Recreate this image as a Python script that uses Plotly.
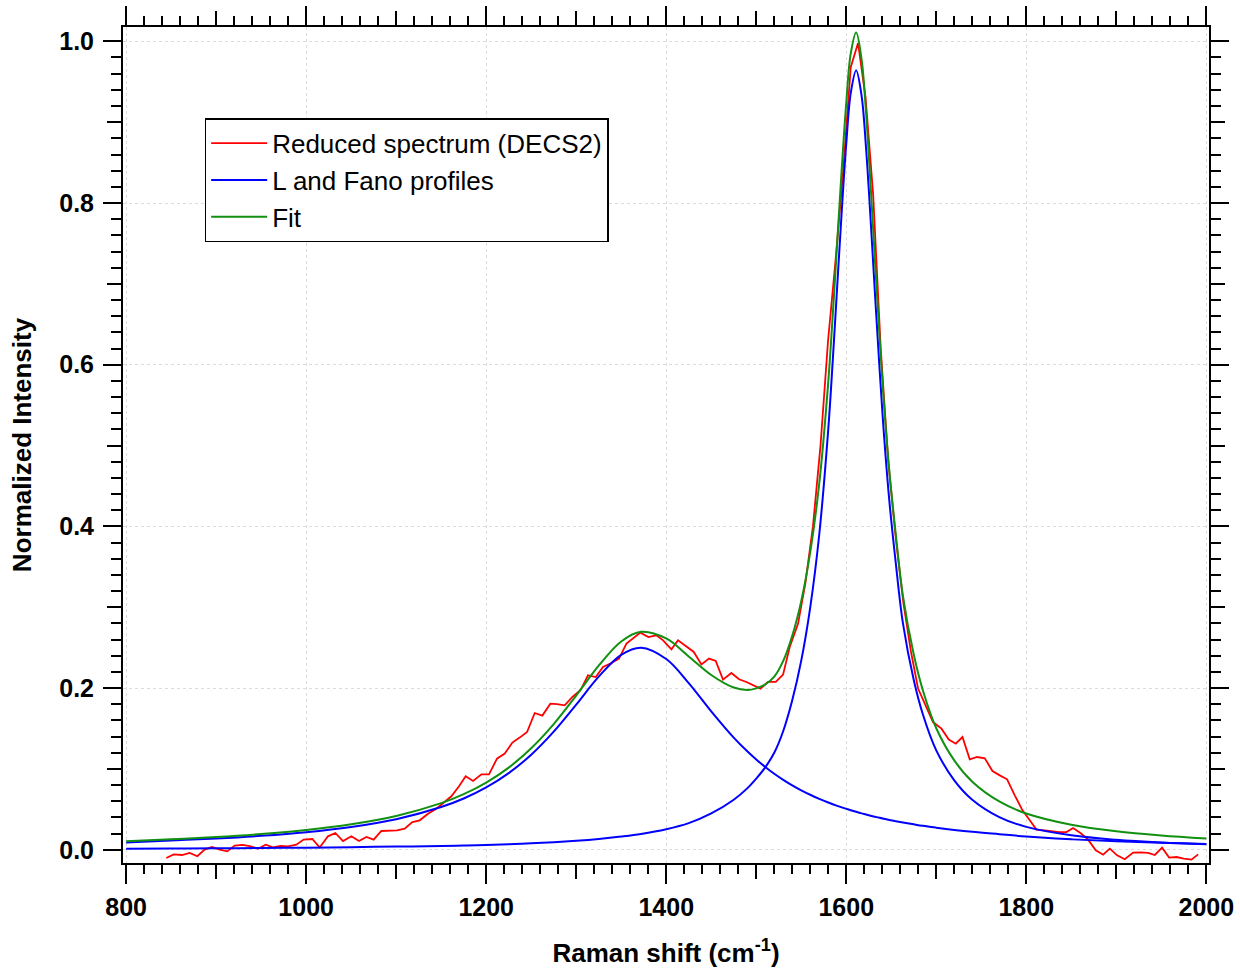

# ====================================== Required packages ================================================ #

import plotly.graph_objects as go

# ============================================ Chart data ================================================= #

# -- Reduced spectrum (DECS2) -- #
red_x = [844.6, 852.8, 862.0, 870.6, 879.1, 887.2, 895.4, 903.9, 912.4, 920.6, 929.1, 937.2, 946.5, 955.0,
         963.1, 971.7, 979.8, 989.1, 997.2, 1006.9, 1015.0, 1024.2, 1032.4, 1040.9, 1050.2, 1058.7, 1066.9,
         1075.0, 1083.5, 1092.0, 1100.9, 1109.4, 1118.0, 1126.1, 1135.4, 1144.6, 1152.8, 1161.3, 1169.8,
         1177.2, 1185.4, 1194.7, 1203.1, 1212.0, 1220.6, 1229.1, 1237.2, 1245.4, 1253.9, 1262.4, 1271.3,
         1278.7, 1287.2, 1295.8, 1304.7, 1313.1, 1321.7, 1329.8, 1339.1, 1347.6, 1355.8, 1363.9, 1371.3,
         1380.2, 1389.1, 1396.5, 1405.8, 1413.1, 1422.4, 1430.6, 1439.1, 1447.6, 1455.0, 1463.1, 1472.4,
         1480.9, 1489.1, 1497.2, 1504.7, 1513.1, 1521.7, 1529.8, 1537.2, 1546.5, 1554.6, 1563.0, 1571.4,
         1579.8, 1588.2, 1596.6, 1605.0, 1613.1, 1621.5, 1629.9, 1638.3, 1646.7, 1655.1, 1663.5, 1671.9,
         1679.8, 1688.0, 1696.4, 1705.8, 1713.9, 1721.7, 1729.1, 1737.2, 1745.4, 1753.9, 1762.4, 1770.6,
         1778.7, 1787.2, 1795.8, 1803.9, 1811.3, 1820.6, 1829.1, 1837.2, 1844.6, 1852.0, 1860.2, 1868.7,
         1877.2, 1885.4, 1892.8, 1900.9, 1909.4, 1918.7, 1926.9, 1935.4, 1942.8, 1950.9, 1958.7, 1966.9,
         1975.0, 1983.5, 1990.9]
red_y = [-0.0101, -0.0056, -0.0064, -0.0039, -0.0080, 0.0002, 0.0035, 0.0002, -0.0019, 0.0052, 0.0060,
         0.0047, 0.0014, 0.0064, 0.0031, 0.0047, 0.0043, 0.0064, 0.0126, 0.0134, 0.0027, 0.0167, 0.0208,
         0.0109, 0.0167, 0.0109, 0.0159, 0.0126, 0.0233, 0.0241, 0.0241, 0.0262, 0.0344, 0.0365, 0.0447,
         0.0509, 0.0579, 0.0662, 0.0785, 0.0909, 0.0851, 0.0934, 0.0934, 0.1128, 0.1190, 0.1326, 0.1388,
         0.1457, 0.1692, 0.1660, 0.1808, 0.1803, 0.1787, 0.1890, 0.1973, 0.2158, 0.2137, 0.2261, 0.2311,
         0.2365, 0.2550, 0.2624, 0.2686, 0.2632, 0.2653, 0.2591, 0.2480, 0.2591, 0.2517, 0.2447, 0.2294,
         0.2365, 0.2336, 0.2105, 0.2187, 0.2109, 0.2076, 0.2035, 0.1994, 0.2076, 0.2076, 0.2167, 0.2508,
         0.2798, 0.3300, 0.4000, 0.5000, 0.6300, 0.7300, 0.8400, 0.9680, 0.9980, 0.9300, 0.8100, 0.6200,
         0.4800, 0.3850, 0.3050, 0.2450, 0.1994, 0.1780, 0.1580, 0.1499, 0.1363, 0.1313, 0.1395, 0.1119,
         0.1148, 0.1132, 0.0975, 0.0921, 0.0872, 0.0674, 0.0489, 0.0365, 0.0250, 0.0241, 0.0229, 0.0220,
         0.0220, 0.0270, 0.0208, 0.0126, -0.0006, -0.0060, 0.0015, -0.0068, -0.0117, -0.0035, -0.0031,
         -0.0039, -0.0064, 0.0027, -0.0096, -0.0089, -0.0109, -0.0121, -0.0056]

# -- Common abscissa for the profiles and the fit -- #
prof_x = [800, 850, 900, 950, 1000, 1050, 1100, 1150, 1175, 1200, 1225, 1250, 1275, 1300, 1325, 1350, 1372,
          1400, 1425, 1450, 1475, 1490, 1500, 1510, 1520, 1530, 1540, 1550, 1560, 1570, 1580, 1585, 1590,
          1595, 1600, 1605, 1611, 1617, 1622, 1627, 1632, 1637, 1642, 1648, 1655, 1663, 1675, 1685, 1700,
          1720, 1740, 1770, 1800, 1850, 1900, 1950, 2000]

# -- L profile (broad band near 1372) -- #
lor_y = [0.0092, 0.0116, 0.0140, 0.0173, 0.0218, 0.0283, 0.0379, 0.0529, 0.0635, 0.0772, 0.0949, 0.1176,
         0.1461, 0.1796, 0.2142, 0.2412, 0.2500, 0.2360, 0.2062, 0.1712, 0.1387, 0.1218, 0.1117, 0.1025,
         0.0941, 0.0866, 0.0798, 0.0736, 0.0681, 0.0631, 0.0585, 0.0564, 0.0544, 0.0525, 0.0507, 0.0490,
         0.0470, 0.0451, 0.0437, 0.0422, 0.0409, 0.0396, 0.0384, 0.0370, 0.0354, 0.0338, 0.0315, 0.0297,
         0.0274, 0.0246, 0.0222, 0.0193, 0.0165, 0.0130, 0.0105, 0.0087, 0.0072]

# -- Fano profile (narrow band near 1611) -- #
fano_y = [0.0012, 0.0015, 0.0018, 0.0022, 0.0027, 0.0033, 0.0040, 0.0048, 0.0053, 0.0059, 0.0068, 0.0080,
          0.0094, 0.0112, 0.0135, 0.0165, 0.0197, 0.0255, 0.0330, 0.0450, 0.0620, 0.0760, 0.0880, 0.1020,
          0.1200, 0.1470, 0.1850, 0.2340, 0.3000, 0.3900, 0.5200, 0.6050, 0.6980, 0.7900, 0.8730, 0.9360,
          0.9640, 0.9330, 0.8680, 0.7810, 0.6860, 0.5950, 0.5120, 0.4300, 0.3550, 0.2800, 0.2100, 0.1680,
          0.1230, 0.0860, 0.0620, 0.0405, 0.0284, 0.0180, 0.0124, 0.0090, 0.0068]

# -- Fit -- #
fit_y = [0.0105, 0.0131, 0.0158, 0.0195, 0.0245, 0.0316, 0.0419, 0.0577, 0.0688, 0.0831, 0.1017, 0.1256,
         0.1555, 0.1908, 0.2277, 0.2577, 0.2697, 0.2615, 0.2392, 0.2162, 0.2007, 0.1978, 0.1997, 0.2045,
         0.2141, 0.2336, 0.2648, 0.3076, 0.3681, 0.4531, 0.5785, 0.6614, 0.7524, 0.8425, 0.9237, 0.9850,
         1.0110, 0.9781, 0.9117, 0.8232, 0.7269, 0.6346, 0.5504, 0.4670, 0.3904, 0.3138, 0.2415, 0.1977,
         0.1504, 0.1106, 0.0842, 0.0598, 0.0449, 0.0310, 0.0229, 0.0177, 0.0140]

# -- Axis ticks -- #
x_major = [800, 1000, 1200, 1400, 1600, 1800, 2000]
x_medium = [900, 1100, 1300, 1500, 1700, 1900]
y_major = [0.0, 0.2, 0.4, 0.6, 0.8, 1.0]
y_medium = [0.1, 0.3, 0.5, 0.7, 0.9]

# ============================================= Figure ==================================================== #

font_family = 'Arial, Liberation Sans, sans-serif'

fig = go.Figure()

fig.add_trace(go.Scatter(x=red_x, y=red_y, mode='lines', name='Reduced spectrum (DECS2)',
                         line=dict(color='#FF0000', width=1.8)))
fig.add_trace(go.Scatter(x=prof_x, y=lor_y, mode='lines', name='L and Fano profiles',
                         line=dict(color='#0000FF', width=2, shape='spline'), legendgroup='prof'))
fig.add_trace(go.Scatter(x=prof_x, y=fano_y, mode='lines', name='L and Fano profiles',
                         line=dict(color='#0000FF', width=2, shape='spline'), legendgroup='prof',
                         showlegend=False))
fig.add_trace(go.Scatter(x=prof_x, y=fit_y, mode='lines', name='Fit',
                         line=dict(color='#119011', width=2, shape='spline')))

# hidden trace on the overlay axes (they only carry the medium ticks)
fig.add_trace(go.Scatter(x=[x_major[0]], y=[-1.0], xaxis='x2', yaxis='y2', mode='markers',
                         marker=dict(opacity=0), showlegend=False, hoverinfo='skip'))

x_range = [796.5, 2003.0]
y_range = [-0.0163, 1.0177]

axis_common = dict(ticks='outside', tickwidth=2, tickcolor='black', showline=True, linewidth=2,
                   linecolor='black', mirror='ticks', zeroline=False, automargin=False)

fig.update_layout(
    width=1240, height=968,
    paper_bgcolor='white', plot_bgcolor='white',
    margin=dict(l=123, r=31, t=27, b=105),
    font=dict(family=font_family, color='black'),
    showlegend=True,
    legend=dict(x=0.0752, y=0.8908, xanchor='left', yanchor='top', bgcolor='white',
                bordercolor='black', borderwidth=1.5, font=dict(size=26, family=font_family),
                itemwidth=56, tracegroupgap=0),
    xaxis=dict(range=x_range, tickvals=x_major, ticklen=19, showgrid=True, gridcolor='#dcdcdc',
               griddash='dot', gridwidth=1, tickfont=dict(size=25, weight='bold'), ticklabelstandoff=2,
               minor=dict(dtick=20, tick0=800, ticks='outside', ticklen=9, tickwidth=2, tickcolor='black',
                          showgrid=False),
               title=dict(text='Raman shift (cm<sup>-1</sup>)', font=dict(size=26, weight='bold'), standoff=27),
               **axis_common),
    yaxis=dict(range=y_range, tickvals=y_major, ticktext=['%.1f' % v for v in y_major], ticklen=18,
               showgrid=True, gridcolor='#dcdcdc', griddash='dot', gridwidth=1,
               tickfont=dict(size=25, weight='bold'), ticklabelstandoff=4,
               minor=dict(dtick=0.02, tick0=0, ticks='outside', ticklen=10, tickwidth=2, tickcolor='black',
                          showgrid=False),
               title=dict(text='Normalized Intensity', font=dict(size=26, weight='bold'), standoff=20),
               **axis_common),
    xaxis2=dict(range=x_range, overlaying='x', anchor='y2', side='bottom', tickvals=x_medium, ticklen=14,
                showticklabels=False, showgrid=False, **axis_common),
    yaxis2=dict(range=y_range, overlaying='y', anchor='x2', side='left', tickvals=y_medium, ticklen=14,
                showticklabels=False, showgrid=False, **axis_common),
)

# page body has a default 8px margin; drop it so the figure sits at the window origin
fig.write_html("out.html", config={'displayModeBar': False},
               post_script="document.body.style.margin='0';")
